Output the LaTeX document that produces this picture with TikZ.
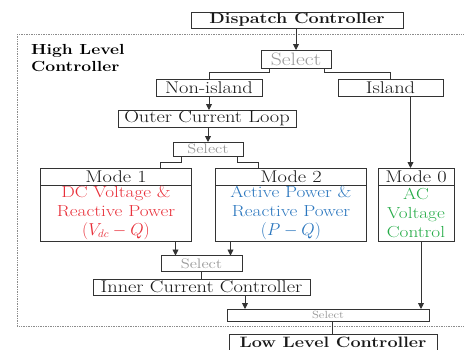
\documentclass[tikz,border=0pt]{standalone}
\usepackage{fontspec}
\setmainfont{Latin Modern Roman}[FakeStretch=1.2]
\usepackage{tikz}
\usetikzlibrary{positioning, arrows.meta, calc}
\definecolor{modered}{HTML}{E8303A}
\definecolor{modeblue}{HTML}{2A76BE}
\definecolor{modegreen}{HTML}{26AC48}

\begin{document}
\begin{tikzpicture}[x=1pt, y=-1pt]
	% Define styles
	\tikzset{
		box/.style={rectangle, draw=black!80, line width=0.9pt, inner sep=0pt, outer sep=0pt, minimum height=17pt, text=black!90, font=\fontsize{17}{18}\selectfont},
		title/.style={box, font=\fontsize{15}{17}\selectfont\bfseries},
		sel/.style={box, text=black!40},
		body/.style={box, align=center, minimum height=56pt, font=\fontsize{16}{18.6}\selectfont},
		line/.style={draw=black!80, line width=0.9pt},
		arrow/.style={line, -{Triangle[length=6pt, width=6pt]}}
	}
	\useasboundingbox (0,0) rectangle (464,349);
	
	% Frame
	\draw[densely dotted, black!45, line width=0.7pt] (17,34) rectangle (470,326);
	\node[anchor=north west, align=left, inner sep=0pt, font=\fontsize{14.6}{17}\selectfont\bfseries] (hlc) at (31,44) {High Level\\Controller};
	
	% Nodes
	\node[title, minimum width=212pt, minimum height=16pt] (disp) at (297,20) {Dispatch Controller};
	\node[sel, minimum width=70pt, minimum height=18pt, font=\fontsize{18}{18}\selectfont] (sel1) at (296,59) {Select};
	\node[box, minimum width=106pt] (nonisl) at (209,87.5) {Non-island};
	\node[box, minimum width=105pt] (isl) at (390.5,87.5) {Island};
	\node[box, minimum width=178pt] (outer) at (207,118.5) {Outer Current Loop};
	\node[sel, minimum width=70pt, minimum height=14pt, font=\fontsize{13.8}{14}\selectfont] (sel2) at (208,149) {Select};
	
	\node[box, minimum width=151pt] (mode1h) at (116,176.5) {Mode 1};
	\node[body, minimum width=151pt, below=0pt of mode1h, text=modered] (mode1b) {DC Voltage \&\\Reactive Power\\$(V_{dc}-Q)$};
	\node[box, minimum width=151pt] (mode2h) at (291,176.5) {Mode 2};
	\node[body, minimum width=151pt, below=0pt of mode2h, text=modeblue] (mode2b) {Active Power \&\\Reactive Power\\$(P-Q)$};
	\node[box, minimum width=76pt] (mode0h) at (416,176.5) {Mode 0};
	\node[body, minimum width=76pt, below=0pt of mode0h, text=modegreen] (mode0b) {AC\\Voltage\\Control};
	
	\node[sel, minimum width=81pt, minimum height=16pt, font=\fontsize{13.8}{14}\selectfont] (sel3) at (201.5,263.5) {Select};
	\node[box, minimum width=217pt, minimum height=16pt] (icc) at (201.5,287) {Inner Current Controller};
	\node[sel, minimum width=202pt, minimum height=12pt, font=\fontsize{10.4}{11}\selectfont] (sel4) at (328,315) {Select};
	\node[title, minimum width=208pt] (low) at (333,342.5) {Low Level Controller};
	
	% Points
	\coordinate (s1l) at ([xshift=8pt]sel1.south west);
	\coordinate (s1r) at ([xshift=-7pt]sel1.south east);
	\coordinate (s2l) at ([xshift=8pt]sel2.south west);
	\coordinate (s2r) at ([xshift=-6pt]sel2.south east);
	\coordinate (m1in) at ([xshift=44pt]mode1h.north);
	\coordinate (m2in) at ([xshift=-33pt]mode2h.north);
	\coordinate (islout) at ([xshift=20pt]isl.south);
	\coordinate (m1out) at ([xshift=-16pt]mode1b.south east);
	\coordinate (m2out) at ([xshift=15pt]mode2b.south west);
	\coordinate (iccout) at ([xshift=18pt]sel4.north west);
	\coordinate (m0out) at ([xshift=5pt]mode0b.south);
	\coordinate (s4out) at ([xshift=4pt]sel4.south);
	
	% Arrows
	\draw[arrow] (disp.south -| sel1.north) -- (sel1.north);
	\draw[line] (s1l) -- ++(0,4) -| (nonisl.north);
	\draw[line] (s1r) -- ++(0,4) -| (isl.north);
	
	\draw[arrow] (nonisl.south) -- (nonisl.south |- outer.north);
	\draw[arrow] (sel2.north |- outer.south) -- (sel2.north);
	\draw[line] (s2l) -- ++(0,6) -| (m1in);
	\draw[line] (s2r) -- ++(0,6) -| (m2in);
	\draw[arrow] (islout) -- (islout |- mode0h.north);
	
	\draw[arrow] (m1out) -- (m1out |- sel3.north);
	\draw[arrow] (m2out) -- (m2out |- sel3.north);
	\draw[line] (sel3.south) -- (sel3.south |- icc.north);
	\draw[arrow] (iccout |- icc.south) -- (iccout);
	\draw[arrow] (m0out) -- (m0out |- sel4.north);
	\draw[line] (s4out) -- (s4out |- low.north);
	
\end{tikzpicture}
\end{document}
